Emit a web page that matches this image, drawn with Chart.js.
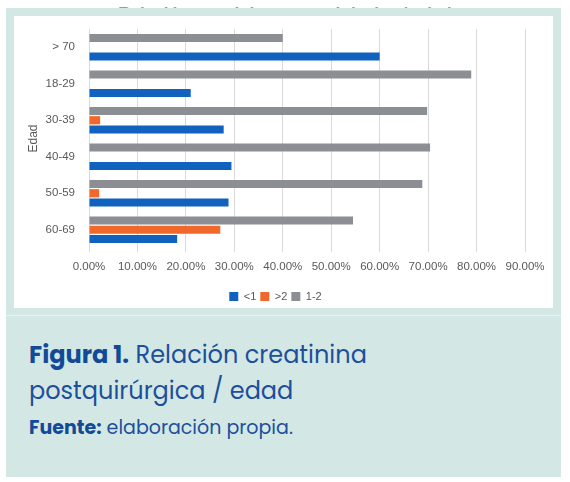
<!DOCTYPE html>
<html>
<head>
<meta charset="utf-8">
<script src="https://cdn.jsdelivr.net/npm/chart.js@4"></script>
<style>
  body { margin: 0; width: 570px; height: 482px; background: #ffffff; position: relative; overflow: hidden; }
  #titulo-cortado {
    position: absolute; left: 0; width: 570px; top: 4px; text-align: center;
    font: bold 17px "Liberation Sans", sans-serif; color: #999999; line-height: 20px;
  }
  #tarjeta {
    position: absolute; left: 6px; top: 8px; width: 555px; height: 469px;
    background: #d3e8e5;
  }
  #panel {
    position: absolute; left: 14px; top: 16px; width: 539px; height: 292px;
    background: #ffffff;
  }
  #lienzo {
    position: absolute; left: 14px; top: 16px; width: 539px; height: 296px;
  }
  #linea {
    position: absolute; left: 6px; top: 315px; width: 555px; height: 1px; background: #e8f3f1;
  }
  #pie {
    position: absolute; left: 29px; top: 337px; color: #1d4f9c;
    font-family: "Poppins", "Noto Sans", sans-serif;
  }
  #pie .fig { font-size: 24px; line-height: 36px; }
  #pie .fuente { font-size: 19px; line-height: 24px; margin-top: 7px; }
  #pie b { font-weight: 700; color: #124a98; }
</style>
</head>
<body>
<div id="titulo-cortado">Relación creatinina postquirúrgica / edad</div>
<div id="tarjeta"></div>
<div id="panel"></div>
<div id="lienzo"><canvas id="grafico"></canvas></div>
<div id="linea"></div>
<div id="pie">
  <div class="fig"><b>Figura 1.</b> Relación creatinina<br>postquirúrgica / edad</div>
  <div class="fuente"><b>Fuente:</b> elaboración propia.</div>
</div>
<script>
// categorias de arriba hacia abajo, como se ven en el grafico
const edades = ['> 70', '18-29', '30-39', '40-49', '50-59', '60-69'];

// porcentajes
const menor_1 = [60.0, 21.0, 27.8, 29.4, 28.8, 18.2];
const mayor_2 = [0, 0, 2.3, 0, 2.1, 27.1];
const entre_1_2 = [40.0, 78.9, 69.8, 70.4, 68.8, 54.5];

const marcas_x = [0, 10, 20, 30, 40, 50, 60, 70, 80, 90];

const gris_texto = '#595959';

new Chart(document.getElementById('grafico'), {
    type: 'bar',
    data: {
        labels: edades,
        // orden dentro de cada grupo: gris arriba, naranja, azul abajo
        datasets: [
            { label: '1-2', data: entre_1_2, backgroundColor: '#8b8e92' },
            { label: '>2', data: mayor_2, backgroundColor: '#f0692b' },
            { label: '<1', data: menor_1, backgroundColor: '#1062be' }
        ]
    },
    options: {
        indexAxis: 'y',
        responsive: true,
        maintainAspectRatio: false,
        animation: false,
        datasets: {
            bar: { categoryPercentage: 0.76, barPercentage: 0.89 }
        },
        layout: { padding: { top: 13, right: 28, left: 12, bottom: 0 } },
        scales: {
            x: {
                min: 0,
                max: 90,
                afterBuildTicks: (eje) => { eje.ticks = marcas_x.map(v => ({ value: v })); },
                ticks: {
                    color: gris_texto,
                    font: { family: 'Liberation Sans', size: 11.5 },
                    padding: 8,
                    maxRotation: 0,
                    callback: (v) => v.toFixed(2) + '%'
                },
                grid: { color: '#d9d9d9', tickLength: 4, tickColor: '#d9d9d9' },
                border: { display: false },
                afterFit: (eje) => { eje.height = 39; }
            },
            y: {
                ticks: {
                    color: gris_texto,
                    font: { family: 'Liberation Sans', size: 11.5 },
                    padding: 3
                },
                // la rejilla no se dibuja, pero tickLength separa las etiquetas del eje
                grid: { display: false, drawTicks: true, tickLength: 11 },
                border: { display: false },
                title: {
                    display: true,
                    text: 'Edad',
                    color: gris_texto,
                    font: { family: 'Liberation Sans', size: 12 },
                    padding: 0
                },
                afterFit: (eje) => { eje.width = 63; }
            }
        },
        plugins: {
            legend: {
                position: 'bottom',
                labels: {
                    color: gris_texto,
                    font: { family: 'Liberation Sans', size: 11 },
                    boxWidth: 9,
                    boxHeight: 9,
                    padding: 4,
                    // la leyenda va en el orden <1, >2, 1-2
                    sort: (a, b) => b.datasetIndex - a.datasetIndex
                }
            },
            tooltip: { enabled: false }
        }
    }
});
</script>
</body>
</html>
